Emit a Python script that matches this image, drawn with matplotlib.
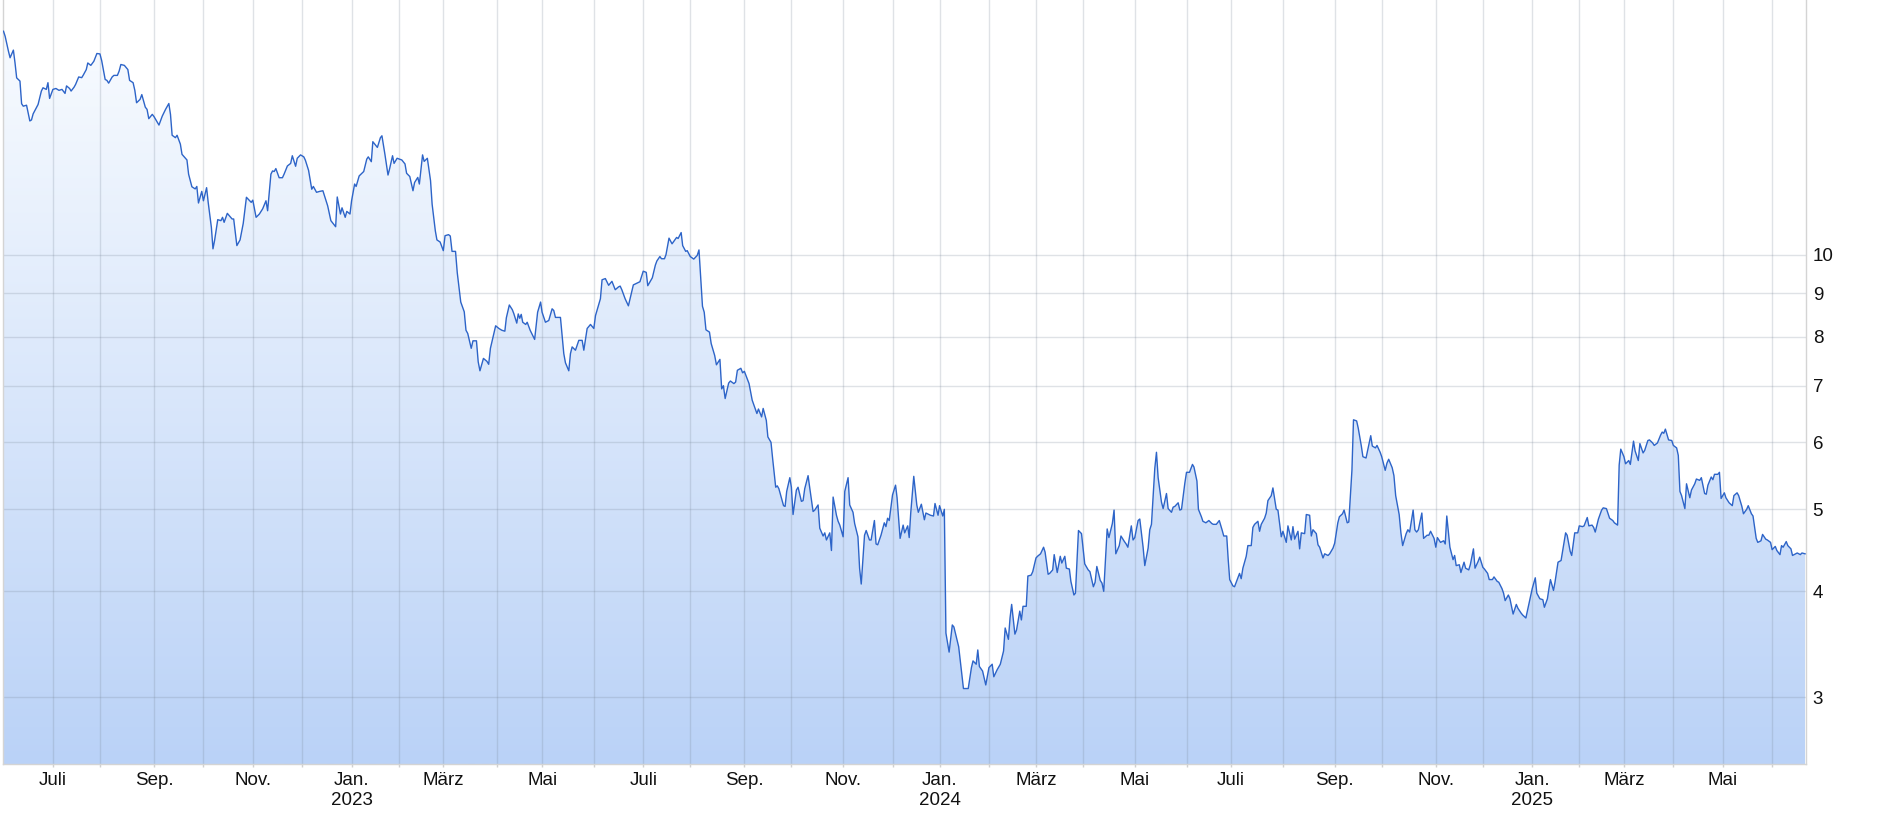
import numpy as np
import matplotlib
matplotlib.use("Agg")
import matplotlib.pyplot as plt
from matplotlib.colors import LinearSegmentedColormap
from matplotlib.patches import PathPatch
from matplotlib.ticker import NullLocator

plt.rcParams["font.family"] = ["Liberation Sans", "DejaVu Sans"]

# NYSE holidays (x axis runs on trading days, like the original)
holidays = [
    "2022-06-20", "2022-07-04", "2022-09-05", "2022-11-24", "2022-12-26",
    "2023-01-02", "2023-01-16", "2023-02-20", "2023-04-07", "2023-05-29", "2023-06-19",
    "2023-07-04", "2023-09-04", "2023-11-23", "2023-12-25",
    "2024-01-01", "2024-01-15", "2024-02-19", "2024-03-29", "2024-05-27", "2024-06-19",
    "2024-07-04", "2024-09-02", "2024-11-28", "2024-12-25",
    "2025-01-01", "2025-01-09", "2025-01-20", "2025-02-17", "2025-04-18", "2025-05-26", "2025-06-19",
]

dates = [
    # 2022
    "2022-06-01", "2022-06-02", "2022-06-04", "2022-06-05", "2022-06-07", "2022-06-08", "2022-06-09", "2022-06-11", "2022-06-12", "2022-06-13",
    "2022-06-15", "2022-06-17", "2022-06-18", "2022-06-19", "2022-06-22", "2022-06-24", "2022-06-25", "2022-06-27", "2022-06-28", "2022-06-29",
    "2022-07-01", "2022-07-03", "2022-07-05", "2022-07-07", "2022-07-09", "2022-07-10", "2022-07-12", "2022-07-13", "2022-07-15", "2022-07-16",
    "2022-07-18", "2022-07-20", "2022-07-21", "2022-07-23", "2022-07-24", "2022-07-26", "2022-07-28", "2022-07-30",
    "2022-08-01", "2022-08-02", "2022-08-04", "2022-08-05", "2022-08-06", "2022-08-08", "2022-08-09", "2022-08-11", "2022-08-12", "2022-08-13",
    "2022-08-15", "2022-08-17", "2022-08-18", "2022-08-20", "2022-08-21", "2022-08-22", "2022-08-24", "2022-08-25", "2022-08-27", "2022-08-28",
    "2022-08-29", "2022-08-31",
    "2022-09-01", "2022-09-04", "2022-09-06", "2022-09-08", "2022-09-10", "2022-09-11", "2022-09-12", "2022-09-14", "2022-09-15", "2022-09-17",
    "2022-09-18", "2022-09-21", "2022-09-22", "2022-09-24", "2022-09-26", "2022-09-27", "2022-09-28", "2022-09-30",
    "2022-10-01", "2022-10-03", "2022-10-04", "2022-10-06", "2022-10-07", "2022-10-08", "2022-10-10", "2022-10-12", "2022-10-13", "2022-10-14",
    "2022-10-16", "2022-10-19", "2022-10-20", "2022-10-22", "2022-10-24", "2022-10-26", "2022-10-28", "2022-10-30", "2022-10-31",
    "2022-11-01", "2022-11-03", "2022-11-05", "2022-11-07", "2022-11-09", "2022-11-10", "2022-11-12", "2022-11-13", "2022-11-14", "2022-11-15",
    "2022-11-17", "2022-11-19", "2022-11-20", "2022-11-22", "2022-11-24", "2022-11-25", "2022-11-27", "2022-11-28", "2022-11-30",
    "2022-12-02", "2022-12-03", "2022-12-05", "2022-12-07", "2022-12-08", "2022-12-10", "2022-12-12", "2022-12-14", "2022-12-17", "2022-12-19",
    "2022-12-22", "2022-12-23", "2022-12-25", "2022-12-26", "2022-12-28", "2022-12-29", "2022-12-31",
    # 2023
    "2023-01-01", "2023-01-03", "2023-01-04", "2023-01-06", "2023-01-09", "2023-01-11", "2023-01-12", "2023-01-14", "2023-01-15", "2023-01-18",
    "2023-01-20", "2023-01-21", "2023-01-23", "2023-01-25", "2023-01-26", "2023-01-28", "2023-01-29", "2023-01-31",
    "2023-02-03", "2023-02-05", "2023-02-06", "2023-02-08", "2023-02-10", "2023-02-11", "2023-02-13", "2023-02-14", "2023-02-16", "2023-02-17",
    "2023-02-19", "2023-02-21", "2023-02-22", "2023-02-24", "2023-02-25", "2023-02-27",
    "2023-03-01", "2023-03-02", "2023-03-04", "2023-03-05", "2023-03-06", "2023-03-08", "2023-03-09", "2023-03-11", "2023-03-13", "2023-03-14",
    "2023-03-15", "2023-03-17", "2023-03-18", "2023-03-20", "2023-03-21", "2023-03-22", "2023-03-24", "2023-03-26", "2023-03-27", "2023-03-28",
    "2023-03-30", "2023-03-31",
    "2023-04-02", "2023-04-04", "2023-04-06", "2023-04-07", "2023-04-09", "2023-04-11", "2023-04-12", "2023-04-14", "2023-04-15", "2023-04-16",
    "2023-04-17", "2023-04-18", "2023-04-20", "2023-04-21", "2023-04-23", "2023-04-26", "2023-04-28", "2023-04-30",
    "2023-05-01", "2023-05-03", "2023-05-05", "2023-05-07", "2023-05-08", "2023-05-09", "2023-05-11", "2023-05-12", "2023-05-14", "2023-05-15",
    "2023-05-17", "2023-05-18", "2023-05-19", "2023-05-21", "2023-05-23", "2023-05-25", "2023-05-26", "2023-05-28", "2023-05-30",
    "2023-06-01", "2023-06-02", "2023-06-05", "2023-06-06", "2023-06-08", "2023-06-10", "2023-06-12", "2023-06-14", "2023-06-16", "2023-06-17",
    "2023-06-18", "2023-06-20", "2023-06-22", "2023-06-25", "2023-06-27", "2023-06-28", "2023-06-29",
    "2023-07-01", "2023-07-03", "2023-07-04", "2023-07-07", "2023-07-09", "2023-07-10", "2023-07-12", "2023-07-13", "2023-07-15", "2023-07-16",
    "2023-07-18", "2023-07-20", "2023-07-21", "2023-07-23", "2023-07-24", "2023-07-26", "2023-07-27", "2023-07-29", "2023-07-30",
    "2023-08-01", "2023-08-03", "2023-08-05", "2023-08-06", "2023-08-08", "2023-08-09", "2023-08-10", "2023-08-12", "2023-08-13", "2023-08-15",
    "2023-08-16", "2023-08-18", "2023-08-19", "2023-08-20", "2023-08-21", "2023-08-23", "2023-08-24", "2023-08-26", "2023-08-27", "2023-08-28",
    "2023-08-30", "2023-08-31",
    "2023-09-01", "2023-09-04", "2023-09-06", "2023-09-09", "2023-09-10", "2023-09-12", "2023-09-13", "2023-09-15", "2023-09-16", "2023-09-18",
    "2023-09-19", "2023-09-21", "2023-09-22", "2023-09-23", "2023-09-26", "2023-09-27", "2023-09-28", "2023-09-30",
    "2023-10-01", "2023-10-02", "2023-10-04", "2023-10-05", "2023-10-07", "2023-10-08", "2023-10-09", "2023-10-11", "2023-10-12", "2023-10-14",
    "2023-10-15", "2023-10-17", "2023-10-18", "2023-10-20", "2023-10-21", "2023-10-22", "2023-10-24", "2023-10-25", "2023-10-26", "2023-10-28",
    "2023-10-29", "2023-10-30",
    "2023-11-01", "2023-11-02", "2023-11-04", "2023-11-05", "2023-11-07", "2023-11-08", "2023-11-10", "2023-11-11", "2023-11-12", "2023-11-14",
    "2023-11-15", "2023-11-17", "2023-11-18", "2023-11-20", "2023-11-21", "2023-11-22", "2023-11-24", "2023-11-26", "2023-11-27", "2023-11-28",
    "2023-11-29",
    "2023-12-01", "2023-12-03", "2023-12-04", "2023-12-06", "2023-12-08", "2023-12-09", "2023-12-11", "2023-12-12", "2023-12-13", "2023-12-15",
    "2023-12-17", "2023-12-18", "2023-12-20", "2023-12-22", "2023-12-23", "2023-12-26", "2023-12-28", "2023-12-29", "2023-12-31",
    # 2024
    "2024-01-01", "2024-01-03", "2024-01-04", "2024-01-05", "2024-01-07", "2024-01-09", "2024-01-10", "2024-01-13", "2024-01-16", "2024-01-19",
    "2024-01-21", "2024-01-22", "2024-01-24", "2024-01-25", "2024-01-26", "2024-01-28", "2024-01-30",
    "2024-02-01", "2024-02-03", "2024-02-04", "2024-02-06", "2024-02-08", "2024-02-10", "2024-02-11", "2024-02-13", "2024-02-14", "2024-02-15",
    "2024-02-17", "2024-02-18", "2024-02-20", "2024-02-21", "2024-02-22", "2024-02-24", "2024-02-25", "2024-02-27", "2024-02-28",
    "2024-03-01", "2024-03-02", "2024-03-04", "2024-03-06", "2024-03-07", "2024-03-09", "2024-03-10", "2024-03-12", "2024-03-13", "2024-03-15",
    "2024-03-17", "2024-03-18", "2024-03-20", "2024-03-21", "2024-03-23", "2024-03-24", "2024-03-26", "2024-03-27", "2024-03-29", "2024-03-31",
    "2024-04-01", "2024-04-02", "2024-04-04", "2024-04-05", "2024-04-07", "2024-04-08", "2024-04-09", "2024-04-11", "2024-04-12", "2024-04-13",
    "2024-04-15", "2024-04-16", "2024-04-18", "2024-04-19", "2024-04-20", "2024-04-22", "2024-04-23", "2024-04-25", "2024-04-26", "2024-04-27",
    "2024-04-29", "2024-04-30",
    "2024-05-01", "2024-05-03", "2024-05-04", "2024-05-06", "2024-05-07", "2024-05-09", "2024-05-10", "2024-05-11", "2024-05-13", "2024-05-14",
    "2024-05-15", "2024-05-17", "2024-05-18", "2024-05-20", "2024-05-21", "2024-05-23", "2024-05-24", "2024-05-25", "2024-05-27", "2024-05-28",
    "2024-05-29", "2024-05-31",
    "2024-06-01", "2024-06-03", "2024-06-05", "2024-06-06", "2024-06-08", "2024-06-09", "2024-06-11", "2024-06-12", "2024-06-14", "2024-06-16",
    "2024-06-18", "2024-06-19", "2024-06-21", "2024-06-23", "2024-06-25", "2024-06-26", "2024-06-28", "2024-06-29", "2024-06-30",
    "2024-07-02", "2024-07-03", "2024-07-04", "2024-07-06", "2024-07-07", "2024-07-08", "2024-07-10", "2024-07-11", "2024-07-13", "2024-07-14",
    "2024-07-15", "2024-07-17", "2024-07-18", "2024-07-19", "2024-07-21", "2024-07-22", "2024-07-23", "2024-07-25", "2024-07-26", "2024-07-28",
    "2024-07-29", "2024-07-31",
    "2024-08-01", "2024-08-03", "2024-08-04", "2024-08-06", "2024-08-07", "2024-08-08", "2024-08-10", "2024-08-11", "2024-08-12", "2024-08-14",
    "2024-08-15", "2024-08-17", "2024-08-18", "2024-08-19", "2024-08-21", "2024-08-22", "2024-08-23", "2024-08-25", "2024-08-26", "2024-08-28",
    "2024-08-29", "2024-08-31",
    "2024-09-01", "2024-09-03", "2024-09-04", "2024-09-06", "2024-09-07", "2024-09-09", "2024-09-10", "2024-09-12", "2024-09-13", "2024-09-15",
    "2024-09-16", "2024-09-18", "2024-09-19", "2024-09-21", "2024-09-22", "2024-09-24", "2024-09-25", "2024-09-27", "2024-09-28", "2024-09-30",
    "2024-10-01", "2024-10-03", "2024-10-04", "2024-10-05", "2024-10-07", "2024-10-08", "2024-10-09", "2024-10-11", "2024-10-12", "2024-10-13",
    "2024-10-15", "2024-10-16", "2024-10-17", "2024-10-19", "2024-10-20", "2024-10-21", "2024-10-22", "2024-10-24", "2024-10-25", "2024-10-27",
    "2024-10-28", "2024-10-29", "2024-10-31",
    "2024-11-01", "2024-11-02", "2024-11-04", "2024-11-06", "2024-11-07", "2024-11-08", "2024-11-10", "2024-11-12", "2024-11-13", "2024-11-14",
    "2024-11-16", "2024-11-17", "2024-11-19", "2024-11-20", "2024-11-22", "2024-11-23", "2024-11-25", "2024-11-26", "2024-11-28", "2024-11-29",
    "2024-12-01", "2024-12-02", "2024-12-04", "2024-12-05", "2024-12-07", "2024-12-08", "2024-12-10", "2024-12-11", "2024-12-13", "2024-12-14",
    "2024-12-15", "2024-12-17", "2024-12-18", "2024-12-20", "2024-12-22", "2024-12-23", "2024-12-25", "2024-12-26", "2024-12-28", "2024-12-31",
    # 2025
    "2025-01-01", "2025-01-03", "2025-01-04", "2025-01-06", "2025-01-08", "2025-01-09", "2025-01-11", "2025-01-12", "2025-01-13", "2025-01-15",
    "2025-01-16", "2025-01-18", "2025-01-20", "2025-01-22", "2025-01-23", "2025-01-24", "2025-01-26", "2025-01-27", "2025-01-29", "2025-01-31",
    "2025-02-01", "2025-02-03", "2025-02-04", "2025-02-06", "2025-02-07", "2025-02-09", "2025-02-10", "2025-02-11", "2025-02-13", "2025-02-15",
    "2025-02-16", "2025-02-18", "2025-02-20", "2025-02-22", "2025-02-23", "2025-02-25", "2025-02-26", "2025-02-27",
    "2025-03-01", "2025-03-02", "2025-03-04", "2025-03-05", "2025-03-07", "2025-03-08", "2025-03-10", "2025-03-11", "2025-03-13", "2025-03-14",
    "2025-03-16", "2025-03-17", "2025-03-19", "2025-03-20", "2025-03-22", "2025-03-24", "2025-03-25", "2025-03-26", "2025-03-27", "2025-03-29",
    "2025-03-31",
    "2025-04-01", "2025-04-03", "2025-04-04", "2025-04-05", "2025-04-06", "2025-04-08", "2025-04-09", "2025-04-11", "2025-04-12", "2025-04-14",
    "2025-04-15", "2025-04-17", "2025-04-18", "2025-04-20", "2025-04-21", "2025-04-22", "2025-04-24", "2025-04-25", "2025-04-26", "2025-04-28",
    "2025-04-29", "2025-04-30",
    "2025-05-02", "2025-05-03", "2025-05-05", "2025-05-07", "2025-05-08", "2025-05-10", "2025-05-11", "2025-05-13", "2025-05-14", "2025-05-16",
    "2025-05-17", "2025-05-19", "2025-05-20", "2025-05-22", "2025-05-23", "2025-05-25", "2025-05-26", "2025-05-28", "2025-05-29", "2025-05-31",
    "2025-06-01", "2025-06-03", "2025-06-04", "2025-06-06", "2025-06-07", "2025-06-08", "2025-06-10", "2025-06-11", "2025-06-13", "2025-06-14",
    "2025-06-16", "2025-06-17", "2025-06-19", "2025-06-20", "2025-06-22",
]

prices = [
    # 2022
    18.37, 18.12, 17.40, 17.09, 17.45, 16.85, 16.18, 16.04, 15.08, 14.98,
    15.02, 14.39, 14.43, 14.67, 15.05, 15.61, 15.75, 15.68, 15.97, 15.30,
    15.68, 15.72, 15.64, 15.68, 15.51, 15.83, 15.72, 15.61, 15.78, 15.90,
    16.22, 16.19, 16.30, 16.55, 16.85, 16.74, 16.93, 17.29,
    17.27, 16.96, 16.11, 16.07, 15.95, 16.22, 16.29, 16.29, 16.48, 16.78,
    16.74, 16.55, 16.07, 15.97, 15.64, 15.12, 15.26, 15.46, 14.94, 14.85,
    14.48, 14.65,
    14.56, 14.23, 14.58, 14.85, 15.09, 14.65, 13.84, 13.75, 13.84, 13.51,
    13.14, 12.94, 12.45, 12.03, 11.96, 12.04, 11.51, 11.88,
    11.58, 12.00, 11.53, 10.77, 10.16, 10.39, 11.00, 10.97, 11.07, 10.92,
    11.19, 11.02, 11.02, 10.25, 10.41, 10.89, 11.69, 11.58, 11.53,
    11.60, 11.07, 11.17, 11.33, 11.58, 11.27, 12.45, 12.56, 12.54, 12.64,
    12.33, 12.33, 12.45, 12.73, 12.82, 13.09, 12.72, 13.00, 13.12,
    13.05, 12.93, 12.58, 11.95, 12.04, 11.85, 11.88, 11.90, 11.42, 10.97,
    10.79, 11.70, 11.17, 11.36, 11.07, 11.25, 11.17,
    # 2023
    11.58, 12.12, 12.04, 12.39, 12.54, 12.97, 13.05, 12.88, 13.60, 13.39,
    13.75, 13.82, 13.13, 12.42, 12.62, 13.09, 12.82, 13.00,
    12.94, 12.80, 12.48, 12.37, 11.90, 12.17, 12.34, 12.12, 13.12, 12.89,
    13.00, 12.23, 11.47, 10.67, 10.41, 10.35,
    10.11, 10.53, 10.56, 10.52, 10.09, 10.09, 9.52, 8.79, 8.56, 8.14,
    8.07, 7.75, 7.91, 7.91, 7.47, 7.29, 7.54, 7.48, 7.42, 7.75,
    8.07, 8.24,
    8.18, 8.14, 8.12, 8.42, 8.72, 8.61, 8.52, 8.30, 8.51, 8.41,
    8.50, 8.32, 8.27, 8.32, 8.14, 7.94, 8.55, 8.79,
    8.55, 8.32, 8.36, 8.63, 8.59, 8.43, 8.43, 8.43, 7.64, 7.45,
    7.29, 7.64, 7.78, 7.71, 7.92, 7.92, 7.71, 8.18, 8.27,
    8.18, 8.47, 8.87, 9.34, 9.37, 9.20, 9.30, 9.09, 9.16, 9.18,
    9.09, 8.87, 8.70, 9.21, 9.25, 9.27, 9.29,
    9.56, 9.53, 9.19, 9.39, 9.72, 9.83, 9.95, 9.89, 9.89, 10.00,
    10.46, 10.30, 10.36, 10.48, 10.45, 10.62, 10.25, 10.09, 10.11,
    9.95, 9.88, 9.98, 10.13, 8.69, 8.55, 8.15, 8.10, 7.85, 7.60,
    7.41, 7.52, 6.94, 7.00, 6.76, 7.05, 7.09, 7.04, 7.07, 7.30,
    7.34, 7.25,
    7.28, 7.04, 6.73, 6.49, 6.57, 6.43, 6.58, 6.37, 6.09, 6.00,
    5.75, 5.31, 5.33, 5.29, 5.05, 5.04, 5.25, 5.45,
    5.31, 4.93, 5.27, 5.31, 5.11, 5.12, 5.29, 5.48, 5.30, 4.97,
    4.99, 5.06, 4.75, 4.65, 4.69, 4.60, 4.69, 4.47, 5.17, 4.92,
    4.84, 4.79,
    4.64, 5.25, 5.45, 5.06, 4.96, 4.81, 4.64, 4.26, 4.08, 4.66,
    4.72, 4.60, 4.60, 4.85, 4.55, 4.54, 4.66, 4.82, 4.77, 4.88,
    4.85,
    5.20, 5.34, 5.16, 4.62, 4.79, 4.69, 4.78, 4.63, 4.95, 5.47,
    5.06, 4.96, 5.07, 4.86, 4.95, 4.92, 4.91, 5.08, 4.92,
    # 2024
    5.05, 4.91, 5.00, 3.57, 3.39, 3.65, 3.63, 3.44, 3.07, 3.07,
    3.25, 3.31, 3.28, 3.41, 3.26, 3.22, 3.10,
    3.25, 3.28, 3.17, 3.23, 3.28, 3.40, 3.62, 3.51, 3.72, 3.86,
    3.56, 3.60, 3.79, 3.70, 3.84, 3.84, 4.17, 4.18, 4.22,
    4.38, 4.40, 4.43, 4.51, 4.45, 4.19, 4.20, 4.24, 4.42, 4.21,
    4.40, 4.32, 4.40, 4.26, 4.25, 4.11, 3.96, 3.98, 4.72, 4.68,
    4.50, 4.31, 4.24, 4.22, 4.05, 4.10, 4.28, 4.12, 4.09, 4.00,
    4.74, 4.63, 4.81, 4.99, 4.43, 4.53, 4.65, 4.58, 4.55, 4.51,
    4.78, 4.60,
    4.63, 4.85, 4.87, 4.51, 4.29, 4.50, 4.73, 4.80, 5.59, 5.84,
    5.45, 5.10, 5.01, 5.22, 5.01, 4.96, 5.03, 5.04, 5.09, 4.99,
    5.00, 5.37,
    5.53, 5.53, 5.65, 5.61, 5.40, 5.00, 4.90, 4.84, 4.82, 4.85,
    4.81, 4.80, 4.80, 4.85, 4.72, 4.65, 4.65, 4.36, 4.13,
    4.06, 4.05, 4.10, 4.20, 4.14, 4.26, 4.40, 4.53, 4.53, 4.76,
    4.80, 4.84, 4.71, 4.80, 4.88, 4.95, 5.12, 5.19, 5.30, 5.00,
    4.99, 4.64,
    4.71, 4.57, 4.78, 4.60, 4.77, 4.61, 4.71, 4.49, 4.69, 4.68,
    4.93, 4.92, 4.65, 4.73, 4.68, 4.54, 4.51, 4.38, 4.43, 4.41,
    4.43, 4.50,
    4.56, 4.82, 4.90, 4.94, 4.99, 4.82, 4.83, 5.56, 6.38, 6.36,
    6.24, 5.94, 5.77, 5.75, 5.87, 6.11, 5.94, 5.91, 5.95, 5.84,
    5.77, 5.56, 5.67, 5.73, 5.60, 5.48, 5.19, 4.93, 4.69, 4.53,
    4.68, 4.73, 4.70, 4.99, 4.73, 4.70, 4.73, 4.95, 4.62, 4.66,
    4.66, 4.71, 4.62,
    4.51, 4.63, 4.57, 4.59, 4.55, 4.91, 4.51, 4.36, 4.41, 4.29,
    4.30, 4.21, 4.33, 4.26, 4.24, 4.30, 4.49, 4.26, 4.34, 4.39,
    4.27, 4.25, 4.20, 4.13, 4.13, 4.16, 4.11, 4.10, 4.03, 3.98,
    3.90, 3.96, 3.92, 3.76, 3.86, 3.82, 3.77, 3.75, 3.72, 3.95,
    # 2025
    4.03, 4.15, 3.98, 3.92, 3.91, 3.83, 3.92, 4.03, 4.13, 4.01,
    4.10, 4.33, 4.35, 4.57, 4.69, 4.66, 4.46, 4.41, 4.69, 4.69,
    4.78, 4.77, 4.78, 4.89, 4.78, 4.79, 4.76, 4.70, 4.87, 4.99,
    5.02, 5.01, 4.88, 4.85, 4.82, 4.79, 5.64, 5.89,
    5.77, 5.66, 5.71, 5.65, 6.02, 5.86, 5.71, 5.98, 5.83, 5.87,
    6.03, 6.04, 5.99, 5.95, 5.99, 6.12, 6.17, 6.15, 6.22, 6.04,
    6.03,
    5.95, 5.91, 5.79, 5.25, 5.19, 5.01, 5.36, 5.16, 5.27, 5.36,
    5.43, 5.41, 5.45, 5.22, 5.21, 5.34, 5.46, 5.42, 5.50, 5.50,
    5.53, 5.15,
    5.23, 5.16, 5.09, 5.05, 5.19, 5.23, 5.19, 5.04, 4.94, 5.00,
    5.05, 4.94, 4.91, 4.62, 4.57, 4.59, 4.67, 4.61, 4.60, 4.57,
    4.48, 4.52, 4.47, 4.42, 4.53, 4.51, 4.58, 4.53, 4.49, 4.41,
    4.43, 4.44, 4.42, 4.44, 4.43,
]

month_labels = {1: "Jan.", 3: "März", 5: "Mai", 7: "Juli", 9: "Sep.", 11: "Nov."}
y_ticks = [3, 4, 5, 6, 7, 8, 9, 10]

assert len(dates) == len(prices), (len(dates), len(prices))

start = np.datetime64("2022-06-01")
hol = np.array(holidays, dtype="datetime64[D]")


def trade_pos(d):
    # position on a trading-day axis; within a month spread by calendar day
    d = np.datetime64(d, "D")
    m = d.astype("datetime64[M]")
    first = m.astype("datetime64[D]")
    nxt = (m + 1).astype("datetime64[D]")
    i0 = np.busday_count(start, first, holidays=hol)
    i1 = np.busday_count(start, nxt, holidays=hol)
    frac = (d - first).astype(int) / (nxt - first).astype(int)
    return i0 + frac * (i1 - i0)


x = np.array([trade_pos(d) for d in dates])
y = np.array(prices)

months = np.arange(np.datetime64("2022-07"), np.datetime64("2025-07"))
tick_pos = [np.busday_count(start, m.astype("datetime64[D]"), holidays=hol) for m in months]
tick_lab = []
for m in months:
    yr = m.astype(object).year
    mo = m.astype(object).month
    lab = month_labels.get(mo, "")
    if mo == 1:
        lab = lab + "\n" + str(yr)
    tick_lab.append(lab)

fig = plt.figure(figsize=(18.8, 8.22), dpi=100)
ax = fig.add_axes([2.7 / 1880, 1 - 764 / 822, (1806 - 2.7) / 1880, 764 / 822])

ax.set_yscale("log")
y_lo, y_hi = 2.5, 20

# gradient area under the line
area = ax.fill_between(x, y, y_lo, facecolor="none", edgecolor="none")
clip = PathPatch(area.get_paths()[0], transform=ax.transData, facecolor="none", edgecolor="none")
ax.add_patch(clip)
cmap = LinearSegmentedColormap.from_list("fade", ["#fbfdff", "#bad2f7"])
grad = np.linspace(0, 1, 256).reshape(-1, 1)
im = ax.imshow(grad, extent=[0, 1, 0, 1], transform=ax.transAxes, aspect="auto",
               cmap=cmap, origin="upper", zorder=1, interpolation="bilinear")
im.set_clip_path(clip)

ax.plot(x, y, color="#2d64c8", lw=1.0, zorder=3)

ax.set_xlim(-0.34, trade_pos("2025-06-22") + 0.4)
ax.set_ylim(y_lo, y_hi)

ax.set_xticks(tick_pos)
ax.set_xticklabels(tick_lab)
for t in ax.get_xticklabels():
    t.set_linespacing(1.3)
ax.set_yticks(y_ticks)
ax.set_yticklabels([str(t) for t in y_ticks])
ax.yaxis.set_minor_locator(NullLocator())
ax.yaxis.tick_right()

ax.grid(True, color="#7a8899", alpha=0.24, lw=1.0, zorder=2)
ax.tick_params(axis="x", length=2, width=1, color="#d0d0d0", pad=3.4, labelsize=13.5, labelcolor="#111111")
ax.tick_params(axis="y", length=0, pad=4.8, labelsize=13.5, labelcolor="#111111")

for side in ["left", "bottom", "right"]:
    ax.spines[side].set_color("#d4d4d4")
    ax.spines[side].set_linewidth(1.0)
ax.spines["top"].set_visible(False)

fig.savefig("out.png", dpi=100)
